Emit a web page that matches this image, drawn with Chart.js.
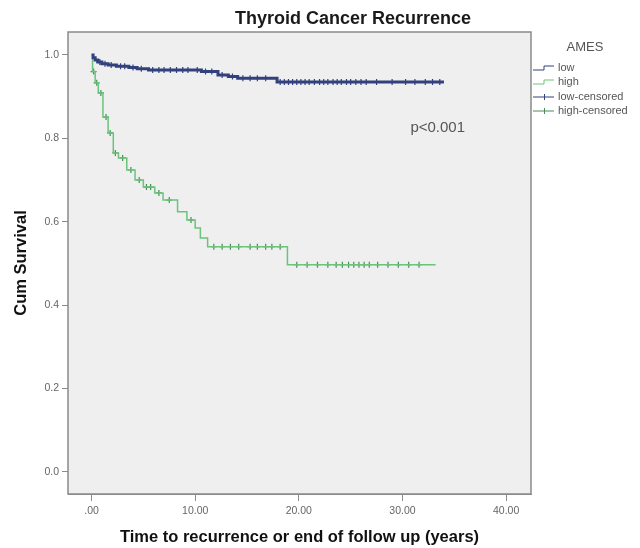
<!DOCTYPE html>
<html>
<head>
<meta charset="utf-8">
<title>Thyroid Cancer Recurrence</title>
<script src="https://cdn.jsdelivr.net/npm/chart.js@4.4.1/dist/chart.umd.min.js"></script>
<style>
  html, body { margin: 0; padding: 0; background: #fff; }
</style>
</head>
<body>
<canvas id="km" width="640" height="548"></canvas>
<script>
// Kaplan-Meier steps: time of each drop and survival after it
var lowTimes = [0, 0.15, 0.35, 0.6, 1.0, 1.6, 2.4, 3.6, 4.4, 5.5, 10.6, 12.2, 13.2, 14.1, 17.9];
var lowSurv  = [1.0, 0.993, 0.988, 0.983, 0.979, 0.976, 0.973, 0.970, 0.967, 0.964, 0.960, 0.952, 0.948, 0.944, 0.935];
var lowEnd = 34.0;

var highTimes = [0, 0.1, 0.35, 0.65, 1.1, 1.6, 2.1, 2.6, 3.4, 4.2, 5.0, 6.1, 6.9, 8.3, 9.2, 10.0, 10.5, 11.2, 18.9];
var highSurv  = [1.0, 0.96, 0.933, 0.909, 0.851, 0.813, 0.765, 0.753, 0.724, 0.700, 0.683, 0.669, 0.652, 0.624, 0.604, 0.585, 0.561, 0.540, 0.497];
var highEnd = 33.2;

// censored follow-up times
var lowCensored = [0.8, 1.3, 1.9, 2.8, 3.2, 4.0, 4.8, 5.9, 6.5, 7.0, 7.6, 8.2, 8.8, 9.3, 10.2, 11.0, 11.6,
  12.6, 13.6, 14.6, 15.3, 16.0, 16.8, 18.2, 18.6, 19.0, 19.4, 19.8, 20.2, 20.6, 21.0, 21.5, 22.0, 22.4,
  22.8, 23.3, 23.7, 24.1, 24.6, 25.0, 25.5, 26.0, 26.5, 27.5, 29.0, 30.3, 31.2, 32.2, 32.9, 33.6];
var highCensored = [0.2, 0.5, 0.9, 1.4, 1.8, 2.3, 3.0, 3.8, 4.6, 5.3, 5.7, 6.5, 7.5, 9.6, 11.8, 12.6, 13.4,
  14.2, 15.3, 16.0, 16.8, 17.4, 18.2, 19.8, 20.8, 21.8, 22.8, 23.6, 24.2, 24.8, 25.3, 25.8, 26.3, 26.8,
  27.6, 28.6, 29.6, 30.6, 31.6];

var xTicks = [0, 10, 20, 30, 40];
var xTickLabels = ['.00', '10.00', '20.00', '30.00', '40.00'];
var yTicks = [0, 0.2, 0.4, 0.6, 0.8, 1.0];
var yTickLabels = ['0.0', '0.2', '0.4', '0.6', '0.8', '1.0'];

var groupLabels = ['low', 'high', 'low-censored', 'high-censored'];
var legendTitle = 'AMES';
var chartTitle = 'Thyroid Cancer Recurrence';
var pText = 'p<0.001';

var blue = '#33407e';
var green = '#6cc47c';
var greenMark = '#4a8c58';
var font = '"Liberation Sans", Arial, sans-serif';

function survAt(times, surv, t) {
  var s = surv[0];
  for (var i = 0; i < times.length; i++) {
    if (times[i] <= t) s = surv[i];
  }
  return s;
}

function curve(times, surv, end) {
  var pts = times.map(function (t, i) { return { x: t, y: surv[i] }; });
  pts.push({ x: end, y: surv[surv.length - 1] });
  return pts;
}

function marks(cens, times, surv) {
  return cens.map(function (t) { return { x: t, y: survAt(times, surv, t) }; });
}

// plot background, frame, title, p-value and the group legend
var decor = {
  id: 'decor',
  beforeDatasetsDraw: function (chart) {
    var a = chart.chartArea, ctx = chart.ctx;
    ctx.save();
    ctx.fillStyle = '#efefef';
    ctx.fillRect(a.left, a.top, a.right - a.left, a.bottom - a.top);
    ctx.restore();
  },
  afterDraw: function (chart) {
    var a = chart.chartArea, ctx = chart.ctx;
    ctx.save();
    ctx.strokeStyle = '#8a8a8a';
    ctx.lineWidth = 1.5;
    ctx.strokeRect(a.left, a.top, a.right - a.left, a.bottom - a.top);

    ctx.textAlign = 'center';
    ctx.textBaseline = 'middle';
    ctx.fillStyle = '#1a1a1a';
    ctx.font = 'bold 18px ' + font;
    ctx.fillText(chartTitle, 353, 19);

    var xs = chart.scales.x, ys = chart.scales.y;
    ctx.fillStyle = '#555';
    ctx.font = '15px ' + font;
    ctx.fillText(pText, xs.getPixelForValue(33.4), ys.getPixelForValue(0.825));

    // legend
    ctx.fillStyle = '#555';
    ctx.font = '13px ' + font;
    ctx.fillText(legendTitle, 585, 47);
    ctx.textAlign = 'left';
    ctx.font = '11px ' + font;
    var rows = [68, 82, 97, 111];
    var cols = [blue, green, blue, greenMark];
    rows.forEach(function (y, i) {
      ctx.strokeStyle = cols[i];
      ctx.lineWidth = 1;
      ctx.beginPath();
      if (i < 2) {
        ctx.moveTo(533, y + 2);
        ctx.lineTo(544, y + 2);
        ctx.lineTo(544, y - 2);
        ctx.lineTo(554, y - 2);
      } else {
        ctx.moveTo(533, y);
        ctx.lineTo(554, y);
        ctx.moveTo(544.5, y - 3);
        ctx.lineTo(544.5, y + 3);
      }
      ctx.stroke();
      ctx.fillStyle = '#555';
      ctx.fillText(groupLabels[i], 558, y);
    });
    ctx.restore();
  }
};

new Chart(document.getElementById('km'), {
  type: 'scatter',
  data: {
    datasets: [
      {
        label: groupLabels[0],
        data: curve(lowTimes, lowSurv, lowEnd),
        showLine: true,
        stepped: true,
        borderColor: blue,
        borderWidth: 3,
        pointRadius: 0
      },
      {
        label: groupLabels[1],
        data: curve(highTimes, highSurv, highEnd),
        showLine: true,
        stepped: true,
        borderColor: green,
        borderWidth: 1.5,
        pointRadius: 0
      },
      {
        label: groupLabels[2],
        data: marks(lowCensored, lowTimes, lowSurv),
        pointStyle: 'cross',
        pointRadius: 3,
        borderColor: blue,
        borderWidth: 1.2
      },
      {
        label: groupLabels[3],
        data: marks(highCensored, highTimes, highSurv),
        pointStyle: 'cross',
        pointRadius: 3,
        borderColor: greenMark,
        borderWidth: 1.2
      }
    ]
  },
  options: {
    responsive: false,
    animation: false,
    layout: { padding: { left: 0, right: 109, top: 32, bottom: 0 } },
    scales: {
      x: {
        type: 'linear',
        min: -2.27,
        max: 42.4,
        afterBuildTicks: function (scale) {
          scale.ticks = xTicks.map(function (v) { return { value: v }; });
        },
        afterFit: function (scale) { scale.height = 54; },
        ticks: {
          autoSkip: false,
          maxRotation: 0,
          padding: 4,
          color: '#666',
          font: { size: 10.5, family: font },
          callback: function (v) { return xTickLabels[xTicks.indexOf(v)]; }
        },
        grid: { drawOnChartArea: false, drawTicks: true, tickLength: 7, color: '#8a8a8a' },
        border: { display: true, color: '#8a8a8a' },
        title: {
          display: true,
          text: 'Time to recurrence or end of follow up (years)',
          color: '#111',
          font: { size: 16.5, weight: 'bold', family: font },
          padding: { top: 0, bottom: 1 }
        }
      },
      y: {
        type: 'linear',
        min: -0.053,
        max: 1.055,
        afterBuildTicks: function (scale) {
          scale.ticks = yTicks.map(function (v) { return { value: v }; });
        },
        afterFit: function (scale) { scale.width = 68; },
        ticks: {
          padding: 3,
          color: '#666',
          font: { size: 10.5, family: font },
          callback: function (v) { return yTickLabels[yTicks.indexOf(v)]; }
        },
        grid: { drawOnChartArea: false, drawTicks: true, tickLength: 6, color: '#8a8a8a' },
        border: { display: true, color: '#8a8a8a' },
        title: {
          display: true,
          text: 'Cum Survival',
          color: '#111',
          font: { size: 16.5, weight: 'bold', family: font },
          padding: { top: 12, bottom: 0 }
        }
      }
    },
    plugins: {
      legend: { display: false },
      tooltip: { enabled: false },
      title: { display: false }
    }
  },
  plugins: [decor]
});
</script>
</body>
</html>
